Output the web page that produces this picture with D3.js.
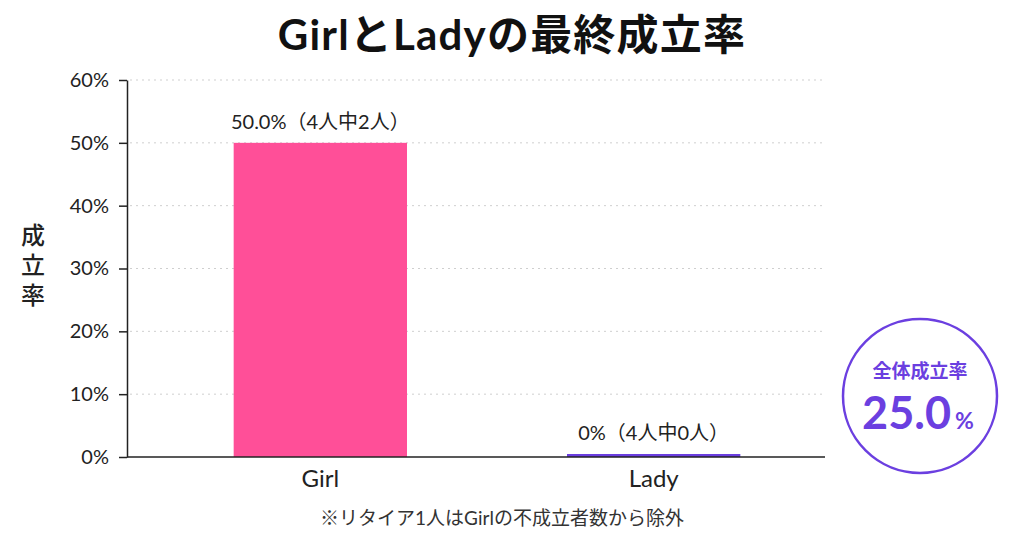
<!DOCTYPE html>
<html>
<head>
<meta charset="utf-8">
<script src="https://cdn.jsdelivr.net/npm/d3@7"></script>
<style>
  body { margin: 0; background: #ffffff; }
  text { font-family: Lato, "Noto Sans CJK JP", sans-serif; }
</style>
</head>
<body>
<div id="plot"></div>
<script>
// Data
var categories = ["Girl", "Lady"];
var rates = [50.0, 0];
var barLabels = ["50.0%（4人中2人）", "0%（4人中0人）"];
var yTicks = [0, 10, 20, 30, 40, 50, 60];
var overallRate = 25.0;

var colors = { Girl: "#ff4f98", Lady: "#6b3fe0" };
var purple = "#6b3fe0";

var svg = d3.select("#plot")
	.append("svg")
	.attr("width", 1024)
	.attr("height", 536);

svg.append("rect").attr("width", 1024).attr("height", 536).attr("fill", "#ffffff");

// Title
svg.append("text")
	.attr("x", 512)
	.attr("y", 50)
	.attr("text-anchor", "middle")
	.style("font-size", "42px")
	.style("font-weight", "bold")
	.style("letter-spacing", "1.2px")
	.attr("fill", "#111")
	.text("GirlとLadyの最終成立率");

// Scales
var x0 = 127, x1 = 825, yTop = 80, yBottom = 457;
var x = d3.scaleBand()
	.domain(categories)
	.range([x0, 847])
	.paddingInner(0.48)
	.paddingOuter(0.32);
var y = d3.scaleLinear()
	.domain([0, 60])
	.range([yBottom, yTop]);

// Grid lines
svg.append("g")
	.selectAll("line")
	.data(yTicks.filter(function(d){ return d > 0; }))
	.enter().append("line")
	.attr("x1", x0 + 3)
	.attr("x2", x1)
	.attr("y1", function(d){ return y(d); })
	.attr("y2", function(d){ return y(d); })
	.attr("stroke", "#cfcfcf")
	.attr("stroke-width", 1)
	.attr("stroke-dasharray", "2,4");

// Y axis
var yAxis = svg.append("g")
	.attr("transform", "translate(" + x0 + ",0)")
	.call(d3.axisLeft(y).tickValues(yTicks).tickFormat(function(d){ return d + "%"; }).tickSize(8).tickSizeOuter(0).tickPadding(10));
yAxis.select(".domain").attr("stroke", "#222").attr("stroke-width", 1.5);
yAxis.selectAll(".tick line").attr("stroke", "#222").attr("stroke-width", 1.5);
yAxis.selectAll(".tick text")
	.style("font-size", "20px")
	.style("font-family", "Lato, 'Noto Sans CJK JP', sans-serif")
	.attr("fill", "#222");

// Bars
svg.append("g")
	.selectAll("rect")
	.data(rates)
	.enter().append("rect")
	.attr("x", function(d, i){ return x(categories[i]); })
	.attr("width", x.bandwidth())
	.attr("y", function(d){ return Math.min(y(d), y(0) - 3); })
	.attr("height", function(d){ return Math.max(y(0) - y(d), 3); })
	.attr("fill", function(d, i){ return colors[categories[i]]; });

// X axis line
svg.append("line")
	.attr("x1", x0)
	.attr("x2", x1)
	.attr("y1", yBottom)
	.attr("y2", yBottom)
	.attr("stroke", "#222")
	.attr("stroke-width", 1.5);

// Category labels
svg.append("g")
	.selectAll("text")
	.data(categories)
	.enter().append("text")
	.attr("x", function(d){ return x(d) + x.bandwidth() / 2; })
	.attr("y", 487)
	.attr("text-anchor", "middle")
	.style("font-size", "24px")
	.attr("fill", "#222")
	.text(function(d){ return d; });

// Bar value labels
svg.append("g")
	.selectAll("text")
	.data(rates)
	.enter().append("text")
	.attr("x", function(d, i){ return x(categories[i]) + x.bandwidth() / 2; })
	.attr("y", function(d){ return Math.min(y(d), y(0) - 3) - 14; })
	.attr("text-anchor", "middle")
	.style("font-size", "20px")
	.attr("fill", "#222")
	.text(function(d, i){ return barLabels[i]; });

// Y label (vertical)
svg.append("text")
	.attr("x", 33)
	.attr("y", 268)
	.attr("text-anchor", "middle")
	.style("writing-mode", "vertical-rl")
	.style("font-family", "'Noto Sans CJK JP', sans-serif")
	.style("font-size", "24px")
	.style("font-weight", "500")
	.style("letter-spacing", "6px")
	.attr("fill", "#222")
	.text("成立率");

// Footnote
svg.append("text")
	.attr("x", 502)
	.attr("y", 525)
	.attr("text-anchor", "middle")
	.style("font-size", "19px")
	.attr("fill", "#333")
	.text("※リタイア1人はGirlの不成立者数から除外");

// Overall rate badge
var badge = svg.append("g").attr("transform", "translate(920,396)");
badge.append("circle")
	.attr("r", 77)
	.attr("fill", "#fff")
	.attr("stroke", purple)
	.attr("stroke-width", 2.5);
badge.append("text")
	.attr("y", -18)
	.attr("text-anchor", "middle")
	.style("font-family", "'Noto Sans CJK JP', sans-serif")
	.style("font-size", "19px")
	.style("font-weight", "bold")
	.attr("fill", purple)
	.text("全体成立率");
var big = badge.append("text")
	.attr("x", -2)
	.attr("y", 33)
	.attr("text-anchor", "middle")
	.attr("fill", purple);
big.append("tspan")
	.style("font-size", "45px")
	.style("font-weight", "bold")
	.text(overallRate.toFixed(1));
big.append("tspan")
	.attr("dx", 4)
	.style("font-size", "23px")
	.style("font-weight", "bold")
	.text("%");
</script>
</body>
</html>
